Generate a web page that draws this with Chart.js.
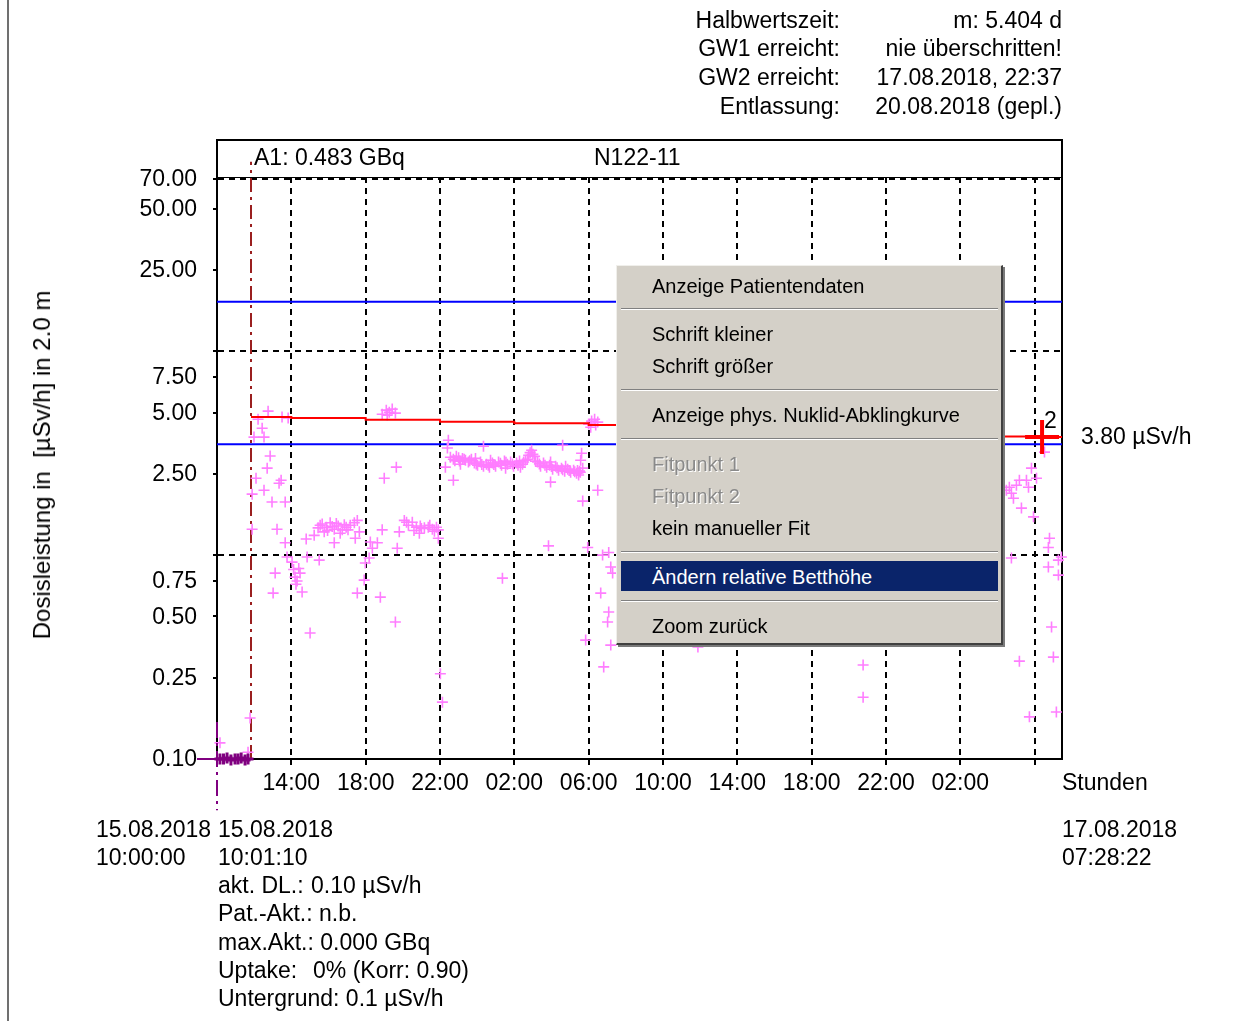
<!DOCTYPE html>
<html>
<head>
<meta charset="utf-8">
<script src="https://cdn.jsdelivr.net/npm/chart.js@4/dist/chart.umd.min.js"></script>
<style>
html, body { margin: 0; padding: 0; background: #fff; }
#wrap { position: relative; width: 1250px; height: 1021px; overflow: hidden;
        font-family: "Liberation Sans", Arial, sans-serif; color: #000; }
#plot { position: absolute; left: 0; top: 0; }
.t { position: absolute; font-size: 23px; line-height: 1; white-space: pre; }
.r { text-align: right; }
#pageEdge { position: absolute; left: 7px; top: 0; width: 2px; height: 1021px; background: #707070; }
#frameTop { position: absolute; left: 216px; top: 139px; width: 847px; height: 39px; box-sizing: border-box;
            border: 2px solid #000; border-bottom: none; }
#yTitle { position: absolute; left: 42px; top: 465px; font-size: 24px; white-space: pre;
          transform: translate(-50%, -50%) rotate(-90deg); }
#menu { position: absolute; left: 616px; top: 265px; width: 387px; height: 380px; box-sizing: border-box;
        background: #d4d0c8; border-top: 1px solid #f0efeb; border-left: 1px solid #f0efeb;
        border-right: 2px solid #404040; border-bottom: 2px solid #404040;
        box-shadow: 2px 2px 0 #7a7a7a; font-family: "Liberation Sans", Arial, sans-serif; font-size: 20px; }
#menu .it { position: absolute; left: 35px; line-height: 1; white-space: pre; color: #000; }
#menu .off { color: #8a8a8a; text-shadow: 1px 1px 0 #fff; }
#menu .sep { position: absolute; left: 4px; width: 377px; height: 1px; background: #808080; border-bottom: 1px solid #fff; }
#menu .hl { position: absolute; left: 4px; top: 295px; width: 377px; height: 30px; background: #0a246a; }
</style>
</head>
<body>
<div id="wrap">
  <canvas id="plot" width="1250" height="1021"></canvas>
  <div id="pageEdge"></div>
  <div id="frameTop"></div>

  <div class="t r" style="right:410px;top:9px">Halbwertszeit:</div>
  <div class="t r" style="right:410px;top:37px">GW1 erreicht:</div>
  <div class="t r" style="right:410px;top:66px">GW2 erreicht:</div>
  <div class="t r" style="right:410px;top:95px">Entlassung:</div>
  <div class="t r" style="right:188px;top:9px">m: 5.404 d</div>
  <div class="t r" style="right:188px;top:37px">nie überschritten!</div>
  <div class="t r" style="right:188px;top:66px">17.08.2018, 22:37</div>
  <div class="t r" style="right:188px;top:95px">20.08.2018 (gepl.)</div>

  <div class="t" style="left:254px;top:146px">A1: 0.483 GBq</div>
  <div class="t" style="left:594px;top:146px">N122-11</div>
  <div class="t" style="left:1044px;top:409px">2</div>

  <div id="yTitle">Dosisleistung in  [µSv/h] in 2.0 m</div>

  <div class="t" style="left:1062px;top:771px">Stunden</div>
  <div class="t" style="left:1062px;top:818px">17.08.2018</div>
  <div class="t" style="left:1062px;top:846px">07:28:22</div>
  <div class="t" style="left:96px;top:818px">15.08.2018</div>
  <div class="t" style="left:96px;top:846px">10:00:00</div>
  <div class="t" style="left:218px;top:818px">15.08.2018</div>
  <div class="t" style="left:218px;top:846px">10:01:10</div>
  <div class="t" style="left:218px;top:874px">akt. DL.:</div>
  <div class="t" style="left:311px;top:874px">0.10 µSv/h</div>
  <div class="t" style="left:218px;top:902px">Pat.-Akt.: n.b.</div>
  <div class="t" style="left:218px;top:931px">max.Akt.: 0.000 GBq</div>
  <div class="t" style="left:218px;top:959px">Uptake:</div>
  <div class="t" style="left:313px;top:959px">0% (Korr: 0.90)</div>
  <div class="t" style="left:218px;top:987px">Untergrund: 0.1 µSv/h</div>

  <div id="menu">
    <div class="it" style="top:10px">Anzeige Patientendaten</div>
    <div class="sep" style="top:42px"></div>
    <div class="it" style="top:58px">Schrift kleiner</div>
    <div class="it" style="top:90px">Schrift größer</div>
    <div class="sep" style="top:123px"></div>
    <div class="it" style="top:139px">Anzeige phys. Nuklid-Abklingkurve</div>
    <div class="sep" style="top:172px"></div>
    <div class="it off" style="top:188px">Fitpunkt 1</div>
    <div class="it off" style="top:220px">Fitpunkt 2</div>
    <div class="it" style="top:252px">kein manueller Fit</div>
    <div class="sep" style="top:285px"></div>
    <div class="hl"></div>
    <div class="it" style="top:301px;color:#fff">Ändern relative Betthöhe</div>
    <div class="sep" style="top:334px"></div>
    <div class="it" style="top:350px">Zoom zurück</div>
  </div>
</div>

<script>
// Hours since 15.08.2018 10:00:00; end of record 17.08.2018 07:28:22
const spanHours = 45.473;

// Time axis: ticks every 4 h with clock-time labels (the last one stays unlabeled)
const timeTickHours = [4, 8, 12, 16, 20, 24, 28, 32, 36, 40, 44];
const timeTickLabels = ['14:00', '18:00', '22:00', '02:00', '06:00', '10:00', '14:00', '18:00', '22:00', '02:00', ''];

// Dose-rate axis (µSv/h, logarithmic)
const rateMin = 0.1;
const rateMax = 71.5;
const rateTickValues = [0.1, 0.25, 0.5, 0.75, 1, 2.5, 5, 7.5, 10, 25, 50, 70];
const rateTickLabels = ['0.10', '0.25', '0.50', '0.75', '', '2.50', '5.00', '7.50', '', '25.00', '50.00', '70.00'];
const rateGridValues = [1, 10, 70];

// Background readings before application
const baseHours = [0.16, 0.35, 0.54, 0.75, 0.97, 1.13, 1.30, 1.51, 1.67];
const baseRates = [0.100, 0.100, 0.101, 0.099, 0.100, 0.100, 0.101, 0.099, 0.100];

// Measured dose rate, first day
const firstHours = [0.16, 1.78, 1.67, 2.21, 2.75, 3.50, 2.43, 1.99, 2.53, 3.83, 2.86, 2.70, 2.10, 3.34, 2.53, 1.89, 2.96, 3.67, 3.45, 1.89, 3.23, 3.67, 3.77, 3.13, 3.02, 4.58, 5.01, 4.20, 4.31, 4.47, 4.04, 4.85, 5.50, 4.80, 5.23, 4.12, 4.25, 4.40, 5.44, 5.66, 5.88, 6.09, 6.31, 6.52, 6.74, 6.95, 7.17, 7.39, 7.55, 5.77, 6.63, 6.31, 7.44, 7.66, 5.55, 6.20, 6.85, 7.05, 5.95, 6.42, 7.92, 7.55, 8.79, 9.60, 8.25, 8.36, 8.63, 8.19, 7.98, 8.89, 9.70, 9.81, 10.08, 10.30, 10.51, 10.73, 10.94, 11.16, 11.37, 11.59, 11.81, 11.91, 11.91, 10.89, 10.20, 10.60, 11.00, 11.45, 11.70, 9.00, 9.65, 8.89, 9.11, 9.27, 9.43, 9.60, 9.16];
const firstRates = [0.120, 0.159, 0.108, 4.64, 5.08, 4.75, 4.19, 3.79, 3.79, 4.70, 3.06, 2.67, 2.38, 2.25, 2.08, 1.99, 1.82, 1.82, 2.33, 1.34, 1.34, 1.15, 0.978, 0.816, 0.651, 0.659, 0.415, 0.780, 0.746, 0.816, 0.924, 0.978, 0.945, 1.20, 1.25, 0.85, 0.72, 0.86, 1.36, 1.42, 1.37, 1.44, 1.34, 1.39, 1.33, 1.37, 1.40, 1.44, 1.48, 1.30, 1.28, 1.15, 1.21, 1.30, 1.40, 1.38, 1.41, 1.33, 1.32, 1.43, 0.754, 0.651, 0.622, 0.470, 1.16, 1.08, 1.15, 0.967, 0.914, 1.33, 1.08, 1.30, 1.48, 1.40, 1.45, 1.37, 1.39, 1.36, 1.37, 1.34, 1.37, 1.33, 1.21, 1.28, 1.45, 1.32, 1.35, 1.40, 1.31, 2.38, 2.70, 4.91, 5.14, 5.02, 5.20, 4.97, 4.86];

// Measured dose rate, first night
const nightHours = [12.45, 12.40, 12.29, 12.72, 12.56, 12.72, 12.88, 13.05, 13.21, 13.37, 13.53, 13.69, 13.85, 14.02, 14.18, 14.34, 14.50, 14.66, 14.82, 14.99, 15.15, 15.31, 15.47, 15.63, 15.80, 15.96, 16.12, 16.28, 16.44, 16.60, 16.77, 16.93, 17.09, 17.25, 17.41, 17.57, 17.74, 17.90, 18.06, 18.22, 18.38, 18.54, 18.71, 18.87, 19.03, 19.19, 19.35, 19.51, 19.68, 13.10, 13.91, 14.72, 15.53, 16.33, 17.14, 17.95, 18.76, 19.46, 14.34, 18.60, 17.95, 19.62, 19.68, 20.49, 17.84, 15.36, 12.02, 12.13, 19.57, 19.95, 20.75, 21.08, 21.19, 21.29, 20.65, 21.08, 21.02, 19.84, 21.19, 20.81, 20.00, 20.16, 20.32, 20.49, 20.11, 20.38, 12.80, 13.00, 13.30, 13.60, 13.95, 14.25, 14.60, 14.90, 15.25, 15.55, 15.90, 16.20, 16.50, 16.85, 17.00, 17.35, 17.65, 18.00, 18.30, 18.60, 18.95, 19.25, 19.55, 19.40, 16.70];
const nightRates = [3.66, 3.35, 2.70, 2.33, 3.02, 2.95, 3.05, 2.89, 2.98, 2.92, 2.86, 2.95, 2.83, 2.76, 2.86, 2.73, 2.79, 2.70, 2.83, 2.73, 2.86, 2.76, 2.89, 2.79, 2.86, 2.73, 2.83, 2.89, 2.79, 2.92, 3.09, 3.27, 3.05, 2.86, 2.73, 2.83, 2.70, 2.76, 2.64, 2.73, 2.61, 2.67, 2.58, 2.64, 2.55, 2.61, 2.52, 2.58, 2.67, 2.79, 2.98, 2.92, 2.67, 2.70, 2.89, 2.86, 2.73, 2.47, 3.42, 3.46, 2.28, 3.16, 1.84, 2.08, 1.11, 0.771, 0.262, 0.190, 2.92, 1.09, 1.00, 1.03, 0.874, 0.816, 0.651, 0.526, 0.470, 0.383, 0.362, 0.283, 4.39, 4.54, 4.64, 4.49, 4.24, 4.34, 2.90, 3.00, 2.95, 2.90, 2.80, 2.78, 2.76, 2.78, 2.82, 2.85, 2.80, 2.76, 2.86, 3.18, 3.12, 2.80, 2.76, 2.72, 2.68, 2.62, 2.60, 2.56, 2.55, 2.60, 2.95];

// Measured dose rate, second day until end of record
const lateHours = [25.88, 34.77, 34.77, 44.53, 43.83, 44.10, 43.18, 42.64, 42.75, 42.86, 43.56, 43.67, 43.29, 43.94, 43.02, 42.48, 44.80, 44.74, 45.44, 45.28, 44.74, 45.28, 42.75, 44.91, 45.01, 43.18, 45.17, 43.72];
const lateRates = [0.354, 0.289, 0.201, 3.20, 2.67, 2.38, 2.33, 2.15, 2.01, 1.90, 2.33, 2.15, 1.70, 1.54, 2.20, 2.08, 1.21, 1.09, 0.978, 0.945, 0.874, 0.798, 0.967, 0.444, 0.316, 0.302, 0.170, 0.161];

// Fitted decay (stepwise) and the current fit point
const fitHours = [1.83, 4, 8, 12, 16, 20, 24, 28, 32, 36, 40, 44, 45.473];
const fitRates = [4.76, 4.70, 4.61, 4.51, 4.43, 4.34, 4.24, 4.14, 4.05, 3.96, 3.82, 3.80, 3.80];
const fitPointHour = 44.4;
const fitPointRate = 3.80;

// Limit values GW1 / GW2 (µSv/h)
const limitRates = [17.5, 3.5];

// Markers: start of record and application A1
const startMarkerRates = [0.152, 0.056];
const startLineHours = [-1.08, 1.70];
const a1Hour = 1.83;
const a1Rates = [0.1, 85];

const FONT = { family: '"Liberation Sans", Arial, sans-serif', size: 23 };
const pts = (hs, vs) => hs.map((h, i) => ({ x: h, y: vs[i] }));

const measured = pts(firstHours, firstRates).concat(pts(nightHours, nightRates), pts(lateHours, lateRates));

new Chart(document.getElementById('plot'), {
  type: 'scatter',
  data: {
    datasets: [
      { type: 'line', data: [{ x: 0, y: limitRates[0] }, { x: spanHours, y: limitRates[0] }],
        borderColor: '#0000ff', borderWidth: 2, pointRadius: 0, order: 5 },
      { type: 'line', data: [{ x: 0, y: limitRates[1] }, { x: spanHours, y: limitRates[1] }],
        borderColor: '#0000ff', borderWidth: 2, pointRadius: 0, order: 5 },
      { type: 'line', data: [{ x: a1Hour, y: a1Rates[0] }, { x: a1Hour, y: a1Rates[1] }],
        borderColor: '#9a1f1f', borderWidth: 2, borderDash: [14, 5, 3, 5], pointRadius: 0, clip: false, order: 6 },
      { type: 'line', data: [{ x: 0, y: startMarkerRates[0] }, { x: 0, y: startMarkerRates[1] }],
        borderColor: '#800080', borderWidth: 2, borderDash: [16, 5, 3, 5], pointRadius: 0, clip: false, order: 1 },
      { type: 'line', data: [{ x: startLineHours[0], y: 0.1 }, { x: startLineHours[1], y: 0.1 }],
        borderColor: '#800080', borderWidth: 2, pointRadius: 0, clip: false, order: 1 },
      { data: measured, pointStyle: 'cross', pointRadius: 5.5, borderWidth: 1.6,
        borderColor: '#ff7dff', backgroundColor: '#ff7dff', clip: false, order: 4 },
      { data: pts(baseHours, baseRates), pointStyle: 'cross', pointRadius: 5.5, borderWidth: 3,
        borderColor: '#800080', backgroundColor: '#800080', clip: false, order: 2 },
      { type: 'line', data: pts(fitHours, fitRates), stepped: true,
        borderColor: '#ff0000', borderWidth: 2, pointRadius: 0, order: 3 },
      { data: [{ x: fitPointHour, y: fitPointRate }], pointStyle: 'cross', pointRadius: 17, borderWidth: 4,
        borderColor: '#ff0000', backgroundColor: '#ff0000', clip: false, order: 0 }
    ]
  },
  options: {
    responsive: false,
    animation: false,
    events: [],
    layout: { padding: { top: 177, left: 0, right: 0, bottom: 0 } },
    plugins: { legend: { display: false }, tooltip: { enabled: false } },
    scales: {
      x: {
        type: 'linear', position: 'bottom', min: 0, max: spanHours,
        afterFit(s) { s.height = 262; },
        afterBuildTicks(s) { s.ticks = timeTickHours.map(v => ({ value: v })); },
        ticks: { callback: (v, i) => timeTickLabels[i], font: FONT, color: '#000',
                 padding: 5, maxRotation: 0, autoSkip: false },
        grid: { color: '#000', lineWidth: 2, tickLength: 6, tickColor: '#000', tickWidth: 2, tickBorderDash: [] },
        border: { display: true, color: '#000', width: 2, dash: [6, 5] }
      },
      xTop: {
        type: 'linear', position: 'top', min: 0, max: spanHours,
        afterFit(s) { s.height = 0; },
        ticks: { display: false },
        grid: { display: false, drawTicks: false },
        border: { display: true, color: '#000', width: 1 }
      },
      y: {
        type: 'logarithmic', position: 'left', min: rateMin, max: rateMax,
        afterFit(s) { s.width = 217; },
        afterBuildTicks(s) { s.ticks = rateTickValues.map(v => ({ value: v })); },
        ticks: { callback: (v, i) => rateTickLabels[i], font: FONT, color: '#000', padding: 16,
                 labelOffset: 1, autoSkip: false },
        grid: {
          color: c => (c.tick && rateGridValues.includes(c.tick.value)) ? '#000' : '',
          lineWidth: 2, tickLength: 4, tickColor: '#000', tickWidth: 2, tickBorderDash: []
        },
        border: { display: true, color: '#000', width: 2, dash: [6, 5] }
      },
      yRight: {
        type: 'logarithmic', position: 'right', min: rateMin, max: rateMax,
        afterFit(s) { s.width = 188; },
        afterBuildTicks(s) { s.ticks = [{ value: fitPointRate }]; },
        ticks: { callback: () => fitPointRate.toFixed(2) + ' µSv/h', font: FONT, color: '#000', padding: 19,
                 labelOffset: 1 },
        grid: { display: false, drawTicks: false, drawOnChartArea: false },
        border: { display: true, color: '#000', width: 2 }
      }
    }
  }
});
</script>
</body>
</html>
